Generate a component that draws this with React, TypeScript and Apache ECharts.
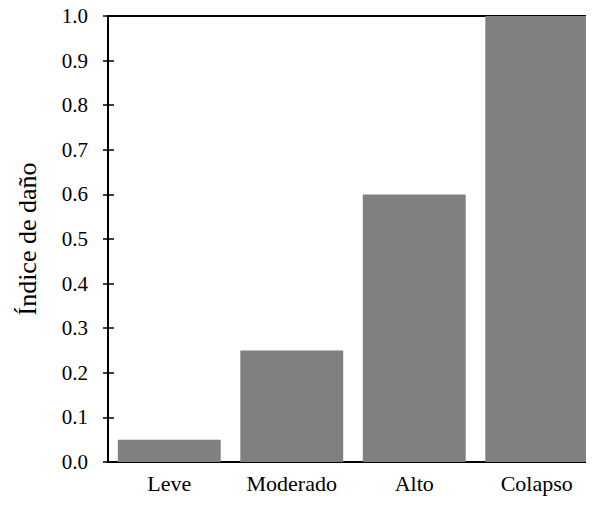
import React, { useEffect, useRef } from "react";
import * as echarts from "echarts";

const categories = ["Leve", "Moderado", "Alto", "Colapso"];
const values = [0.05, 0.25, 0.6, 1.0];
const yTickLabels = ["0.0", "0.1", "0.2", "0.3", "0.4", "0.5", "0.6", "0.7", "0.8", "0.9", "1.0"];
const yTitle = "Índice de daño";

export default function App() {
  const ref = useRef<HTMLDivElement>(null);
  useEffect(() => {
    const chart = echarts.init(ref.current!, null, { renderer: "svg" });
    const font = "'Liberation Serif', 'Times New Roman', serif";
    chart.setOption({
      animation: false,
      textStyle: { fontFamily: font },
      grid: {
        left: 108,
        right: 6,
        top: 16,
        bottom: 44,
        containLabel: false,
        show: true,
        borderColor: "#000",
        borderWidth: 2,
        backgroundColor: "transparent",
      },
      xAxis: [
        {
          type: "category",
          data: categories,
          axisLine: { lineStyle: { color: "#000", width: 2 } },
          axisTick: { show: false },
          axisLabel: { color: "#000", fontSize: 22, fontFamily: font, margin: 10 },
        },
      ],
      yAxis: [
        {
          type: "value",
          min: 0,
          max: 1,
          interval: 0.1,
          axisLine: { show: true, lineStyle: { color: "#000", width: 2 } },
          axisTick: { show: true, length: 5, inside: false, lineStyle: { color: "#000", width: 1.5 } },
          splitLine: { show: false },
          axisLabel: {
            color: "#000",
            fontSize: 21,
            fontFamily: font,
            margin: 20,
            formatter: (v: number) => yTickLabels[Math.round(v * 10)],
          },
          name: yTitle,
          nameLocation: "middle",
          nameGap: 68,
          nameRotate: 90,
          nameTextStyle: { color: "#000", fontSize: 26, fontFamily: font },
        },
        {
          type: "value",
          min: 0,
          max: 1,
          interval: 0.1,
          position: "left",
          axisLine: { show: false },
          axisTick: { show: true, length: 6, inside: true, lineStyle: { color: "#000", width: 1.5 } },
          splitLine: { show: false },
          axisLabel: { show: false },
        },
      ],
      series: [
        {
          type: "bar",
          data: values,
          barWidth: "84%",
          itemStyle: { color: "#808080" },
        },
      ],
    });
    return () => chart.dispose();
  }, []);
  return (
    <div style={{ width: 594, height: 506, margin: -8, overflow: "hidden" }}>
      <div ref={ref} style={{ width: 604, height: 506 }} />
    </div>
  );
}
